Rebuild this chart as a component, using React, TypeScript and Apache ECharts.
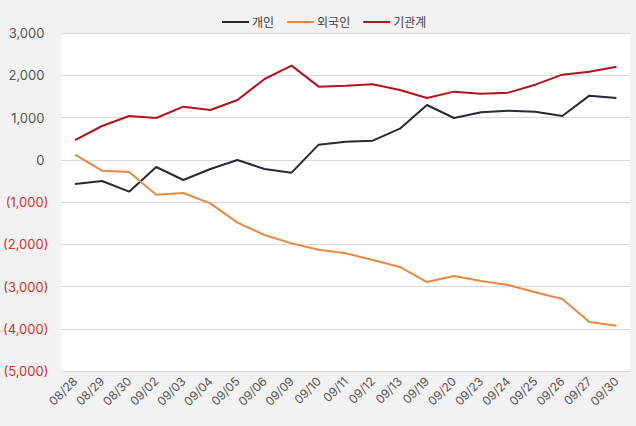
import React, { useEffect, useRef } from "react";
import * as echarts from "echarts";

const categories = ["08/28","08/29","08/30","09/02","09/03","09/04","09/05","09/06","09/09","09/10","09/11","09/12","09/13","09/19","09/20","09/23","09/24","09/25","09/26","09/27","09/30"];
const individual = [-574,-503,-755,-172,-479,-219,-6,-219,-306,357,428,451,735,1296,988,1122,1162,1138,1036,1517,1462];
const foreign = [121,-258,-290,-826,-787,-1032,-1489,-1781,-1979,-2128,-2214,-2373,-2538,-2894,-2752,-2870,-2965,-3138,-3296,-3840,-3927];
const institution = [467,799,1036,988,1256,1178,1414,1911,2227,1730,1754,1785,1651,1462,1612,1564,1588,1777,2014,2085,2203];
const seriesNames = ["개인", "외국인", "기관계"];
const colors = ["#252a34", "#e8893f", "#b5121b"];

const fmt = (v: number) => {
  const s = Math.abs(v).toLocaleString("en-US");
  return v < 0 ? `{neg|(${s})}` : `{pos|${s}}`;
};

export default function App() {
  const ref = useRef<HTMLDivElement>(null);
  useEffect(() => {
    const chart = echarts.init(ref.current!, null, { renderer: "svg" });
    const font = "Inter, 'Noto Sans CJK KR', sans-serif";
    chart.setOption({
      animation: false,
      backgroundColor: "#f2f2f2",
      textStyle: { fontFamily: font },
      color: colors,
      legend: {
        top: 11,
        left: 217,
        itemWidth: 27,
        itemHeight: 2,
        itemGap: 13,
        icon: "rect",
        textStyle: { color: "#444", fontSize: 12, fontFamily: font, padding: [0, 0, 0, -2] },
        data: seriesNames,
      },
      grid: { left: 60, right: 6, top: 33, bottom: 55, backgroundColor: "#ffffff", show: true, borderWidth: 0 },
      xAxis: {
        type: "category",
        data: categories,
        boundaryGap: true,
        axisLine: { show: true, lineStyle: { color: "#d9d9d9" } },
        axisTick: { show: false },
        axisLabel: { rotate: 45, color: "#555", fontSize: 12, interval: 0, margin: 8, fontFamily: font },
      },
      yAxis: {
        type: "value",
        min: -5000,
        max: 3000,
        interval: 1000,
        axisLine: { show: false },
        axisTick: { show: false },
        splitLine: { lineStyle: { color: "#d9d9d9", width: 1 } },
        axisLabel: {
          margin: 13,
          fontSize: 13,
          formatter: fmt,
          rich: {
            pos: { color: "#555", fontSize: 13, fontFamily: font, padding: [0, 4, 0, 0] },
            neg: { color: "#d0312d", fontSize: 13, fontFamily: font },
          },
        },
      },
      series: [individual, foreign, institution].map((d, i) => ({
        name: seriesNames[i],
        type: "line",
        data: d,
        symbol: "none",
        lineStyle: { width: 2, color: colors[i] },
        itemStyle: { color: colors[i] },
      })),
    });
    return () => chart.dispose();
  }, []);
  return <div ref={ref} style={{ position: "fixed", left: 0, top: 0, width: 636, height: 426 }} />;
}
